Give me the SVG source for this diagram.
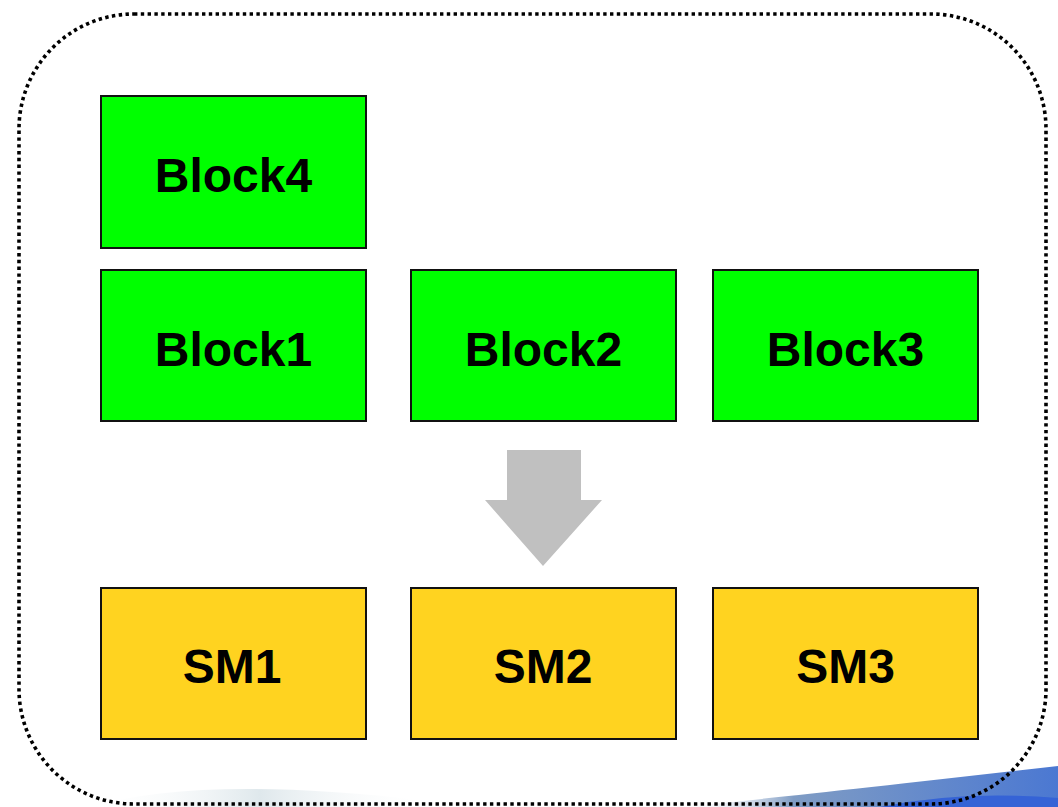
<svg xmlns="http://www.w3.org/2000/svg" width="1058" height="807" viewBox="0 0 1058 807">
<defs>
<style>
.blk{fill:#00ff00;stroke:#111;stroke-width:2}
.sm{fill:#ffd320;stroke:#111;stroke-width:2}
.lbl{font-family:"Liberation Sans",Arial,sans-serif;font-weight:bold;font-size:48px;fill:#000;text-anchor:middle}
</style>
<linearGradient id="swA" x1="0" y1="0" x2="1" y2="0">
<stop offset="0" stop-color="#ffffff" stop-opacity="0"/>
<stop offset="0.3" stop-color="#7f9cc4"/>
<stop offset="1" stop-color="#4b78d2"/>
</linearGradient>
<linearGradient id="swB" x1="0" y1="0" x2="1" y2="0">
<stop offset="0" stop-color="#ffffff" stop-opacity="0"/>
<stop offset="0.5" stop-color="#dfe8ec"/>
<stop offset="1" stop-color="#ffffff" stop-opacity="0"/>
</linearGradient>
</defs>
<rect width="1058" height="807" fill="#fff"/>
<g id="decor">
<path d="M90,807 Q200,775 420,800 L430,807 Z" fill="url(#swB)"/>
<path d="M680,807 Q760,800 1058,766 L1058,807 Z" fill="url(#swA)"/>
<path d="M880,807 Q960,790 1058,798 L1058,807 Z" fill="#3563d6"/>
</g>
<g id="frame">
<rect x="19" y="14" width="1027" height="790" rx="115" ry="115" fill="none" stroke="#000" stroke-width="3.6" stroke-dasharray="3.4 3.4"/>
</g>
<g id="block4"><rect class="blk" x="101" y="96" width="265" height="152"/><text class="lbl" x="233.5" y="192">Block4</text></g>
<g id="block1"><rect class="blk" x="101" y="270" width="265" height="151"/><text class="lbl" x="233.5" y="366">Block1</text></g>
<g id="block2"><rect class="blk" x="411" y="270" width="265" height="151"/><text class="lbl" x="543.5" y="366">Block2</text></g>
<g id="block3"><rect class="blk" x="713" y="270" width="265" height="151"/><text class="lbl" x="845.5" y="366">Block3</text></g>
<g id="sm1"><rect class="sm" x="101" y="588" width="265" height="151"/><text class="lbl" x="232" y="683">SM1</text></g>
<g id="sm2"><rect class="sm" x="411" y="588" width="265" height="151"/><text class="lbl" x="543" y="683">SM2</text></g>
<g id="sm3"><rect class="sm" x="713" y="588" width="265" height="151"/><text class="lbl" x="845.5" y="683">SM3</text></g>
<g id="connectors">
<polygon points="507,450 581,450 581,500 602,500 543,566 485,500 507,500" fill="#c0c0c0"/>
</g>
</svg>
